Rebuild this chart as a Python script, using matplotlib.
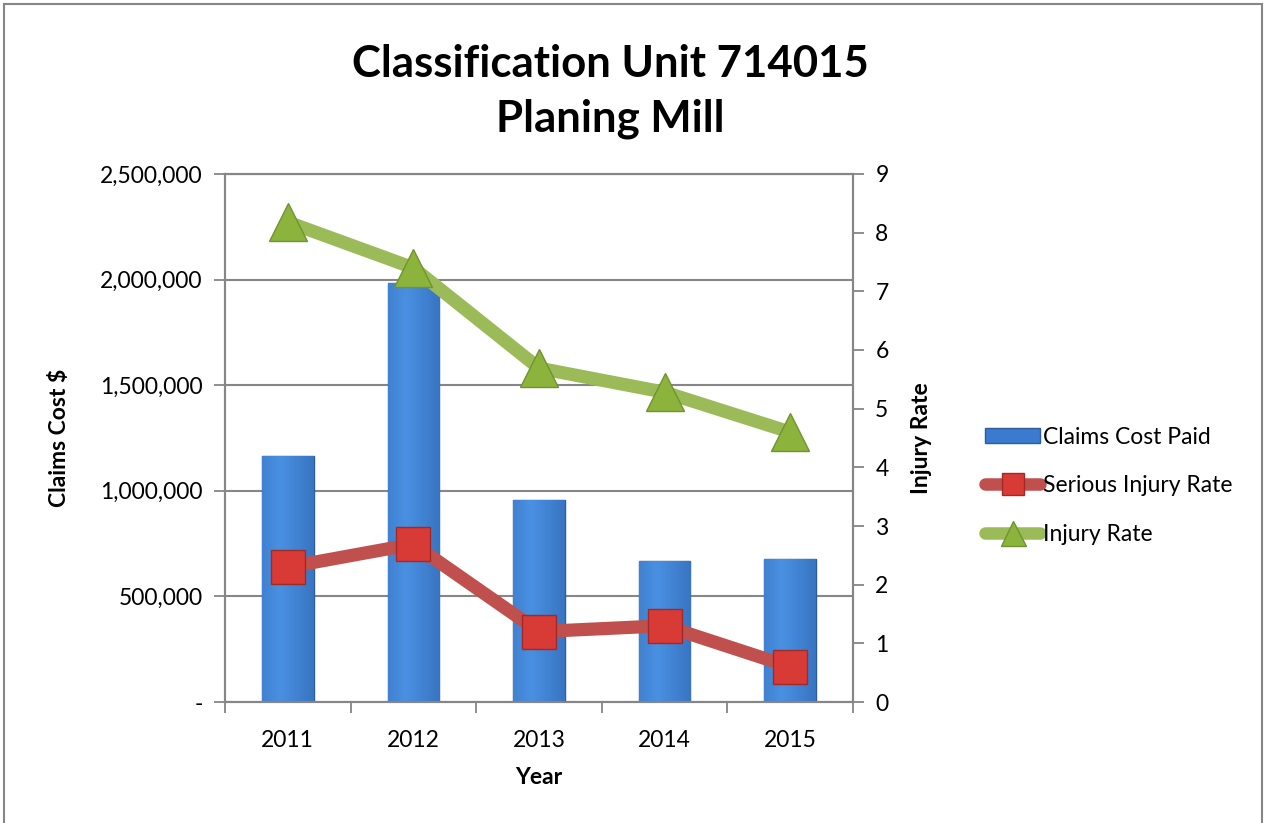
import matplotlib
matplotlib.use("Agg")
import matplotlib.pyplot as plt
import numpy as np
from matplotlib.lines import Line2D
from matplotlib.patches import Patch
from matplotlib.ticker import FuncFormatter
from matplotlib.colors import LinearSegmentedColormap

plt.rcParams['font.family'] = ['Lato', 'DejaVu Sans']

# data
years = ['2011', '2012', '2013', '2014', '2015']
claims_cost = [1165000, 1985000, 956000, 668000, 677000]
serious_rate = [2.30, 2.69, 1.20, 1.30, 0.60]
injury_rate = [8.18, 7.40, 5.69, 5.28, 4.60]

grid_col = '#868686'
bar_col = '#3A7BD0'
red_line = '#C0504D'
red_mark = '#D83A36'
green_line = '#9BBB59'
green_mark = '#8CB33C'

fig = plt.figure(figsize=(12.66, 8.23), dpi=100)
ax = fig.add_axes([0.1777, 0.147, 0.4961, 0.6416])
ax2 = ax.twinx()

x = np.arange(len(years))

#bars with a soft horizontal gradient
bars = ax.bar(x, claims_cost, width=0.41, color=bar_col, edgecolor='#2C5C9A',
              linewidth=1.0, zorder=2)
grad = np.linspace(0, 1, 64)
shade = 1 - 0.55 * np.abs(grad - 0.35) / 0.65
grad_img = np.tile(shade, (2, 1))
cmap = LinearSegmentedColormap.from_list('b', ['#2A5EA8', '#4A90E2'])
for b in bars:
    x0, w, h = b.get_x(), b.get_width(), b.get_height()
    im = ax.imshow(grad_img, extent=[x0, x0 + w, 0, h], aspect='auto',
                   cmap=cmap, vmin=0, vmax=1, zorder=2.1)
    im.set_clip_path(b)

ax.set_xlim(-0.5, 4.5)
ax.set_ylim(0, 2500000)
ax.set_yticks(np.arange(0, 2500001, 500000))
ax.yaxis.set_major_formatter(FuncFormatter(lambda v, p: '-' if v == 0 else f'{int(v):,}'))
ax.yaxis.grid(True, color=grid_col, linewidth=1.5, zorder=0)
ax.set_axisbelow(True)

# category boundaries as tick marks, labels in the middle
ax.set_xticks(np.arange(-0.5, 5, 1))
ax.set_xticklabels([])
ax.set_xticks(x, minor=True)
ax.set_xticklabels(years, minor=True)
ax.tick_params(axis='x', which='minor', length=0, pad=20, labelsize=16.5)
ax.tick_params(axis='x', which='major', length=8, width=1.3, color=grid_col)
ax.tick_params(axis='y', length=8, width=1.3, color=grid_col, labelsize=16.5, pad=8)

ax2.plot(x, serious_rate, color=red_line, linewidth=9.5, marker='s', markersize=24,
         markerfacecolor=red_mark, markeredgecolor='#A02A28', markeredgewidth=1,
         solid_capstyle='round', zorder=3)
ax2.plot(x, injury_rate, color=green_line, linewidth=9.5, marker='^', markersize=27,
         markerfacecolor=green_mark, markeredgecolor='#6F9430', markeredgewidth=1,
         solid_capstyle='round', zorder=3)
ax2.set_ylim(0, 9)
ax2.set_yticks(range(0, 10))
ax2.tick_params(axis='y', length=8, width=1.3, color=grid_col, labelsize=16.5, pad=8)

for a in (ax, ax2):
    for s in a.spines.values():
        s.set_color(grid_col)
        s.set_linewidth(1.5)

ax.set_ylabel('Claims Cost $', fontsize=16.5, fontweight='bold', labelpad=22)
ax2.set_ylabel('Injury Rate', fontsize=16.5, fontweight='bold', labelpad=16)
ax.set_xlabel('Year', fontsize=16.5, fontweight='bold', labelpad=12)

fig.text(0.482, 0.889, 'Classification Unit 714015\nPlaning Mill', ha='center',
         va='center', fontsize=31.5, fontweight='bold', linespacing=1.45)

handles = [
    Patch(facecolor=bar_col, edgecolor='#2C5C9A'),
    Line2D([], [], color=red_line, linewidth=9, marker='s', markersize=16,
           markerfacecolor=red_mark, markeredgecolor='#A02A28', solid_capstyle='round'),
    Line2D([], [], color=green_line, linewidth=9, marker='^', markersize=18,
           markerfacecolor=green_mark, markeredgecolor='#6F9430', solid_capstyle='round'),
]
fig.legend(handles, ['Claims Cost Paid', 'Serious Injury Rate', 'Injury Rate'],
           loc='center left', bbox_to_anchor=(0.762, 0.41), frameon=False,
           fontsize=16.5, handlelength=2.4, handletextpad=0.1, labelspacing=1.2,
           handleheight=0.6)

# outer chart border (bottom edge is cut off in the reference)
for xs, ys in [([0.003, 0.003], [0, 0.995]), ([0.003, 0.997], [0.995, 0.995]),
               ([0.997, 0.997], [0, 0.995])]:
    fig.add_artist(Line2D(xs, ys, color=grid_col, linewidth=1.5))

fig.savefig('out.png', dpi=100)
